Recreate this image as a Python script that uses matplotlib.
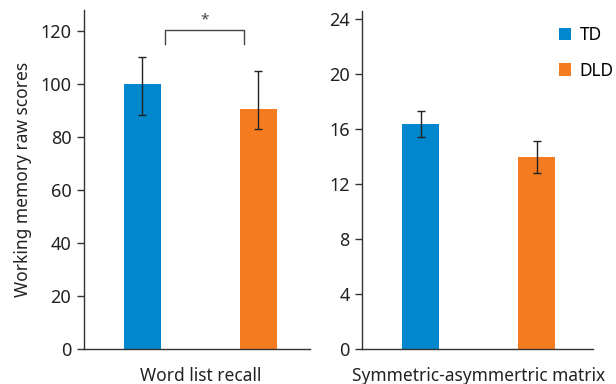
import matplotlib
matplotlib.use("Agg")
import matplotlib.pyplot as plt
from matplotlib.patches import Patch

plt.rcParams['font.family'] = ['Noto Sans', 'DejaVu Sans']

# Gruppi e colori
groups = ['TD', 'DLD']
colors = ['#0087CE', '#F47B20']

# Word list recall: medie e barre d'errore (sotto / sopra)
word_mean = [100.0, 90.6]
word_err_low = [11.6, 7.6]
word_err_high = [10.3, 14.4]

# Symmetric-asymmetric matrix
matrix_mean = [16.35, 14.0]
matrix_err_low = [0.95, 1.2]
matrix_err_high = [0.95, 1.15]

word_ticks = [0, 20, 40, 60, 80, 100, 120]
matrix_ticks = [0, 4, 8, 12, 16, 20, 24]

fig = plt.figure(figsize=(6.16, 3.84), dpi=100)
ax1 = fig.add_axes([0.136, 0.091, 0.367, 0.883])
ax2 = fig.add_axes([0.588, 0.091, 0.375, 0.881])

pos = [0, 1]
w = 0.32
spine_col = '#333333'

def style(ax):
    for s in ['top', 'right']:
        ax.spines[s].set_visible(False)
    for s in ['left', 'bottom']:
        ax.spines[s].set_color(spine_col)
        ax.spines[s].set_linewidth(1.0)
    ax.tick_params(axis='y', direction='out', length=5, width=1, color=spine_col,
                   labelsize=13, labelcolor='#222222', pad=4)
    ax.tick_params(axis='x', length=0, labelsize=12.5, labelcolor='#222222', pad=13)

ax1.bar(pos, word_mean, width=w, color=colors,
        yerr=[word_err_low, word_err_high], capsize=3,
        error_kw=dict(elinewidth=1, capthick=1, ecolor='#222222'))
ax1.set_ylim(0, 128)
ax1.set_xlim(-0.504, 1.444)
ax1.set_yticks(word_ticks)
ax1.set_xticks([0.5])
ax1.set_xticklabels(['Word list recall'])
ax1.set_ylabel('Working memory raw scores', fontsize=12.5, color='#222222', labelpad=6)
style(ax1)

# parentesi di significatività
ax1.plot([0.2, 0.2, 0.88, 0.88], [115, 120.5, 120.5, 115], color='#444444', lw=1)
ax1.text(0.54, 124.2, '*', ha='center', va='center', fontsize=11, color='#444444')

ax2.bar(pos, matrix_mean, width=w, color=colors,
        yerr=[matrix_err_low, matrix_err_high], capsize=3,
        error_kw=dict(elinewidth=1, capthick=1, ecolor='#222222'))
ax2.set_ylim(0, 24.6)
ax2.set_xlim(-0.504, 1.487)
ax2.set_yticks(matrix_ticks)
ax2.set_xticks([0.5])
ax2.set_xticklabels(['Symmetric-asymmertric matrix'])
style(ax2)

handles = [Patch(facecolor=c, label=g) for g, c in zip(groups, colors)]
ax2.legend(handles=handles, loc='upper right', bbox_to_anchor=(1.14, 0.99),
           frameon=False, fontsize=12.5, handlelength=0.7, handleheight=0.7,
           handletextpad=0.5, labelspacing=1.0, borderaxespad=0.3)

fig.savefig('out.png', dpi=100)
